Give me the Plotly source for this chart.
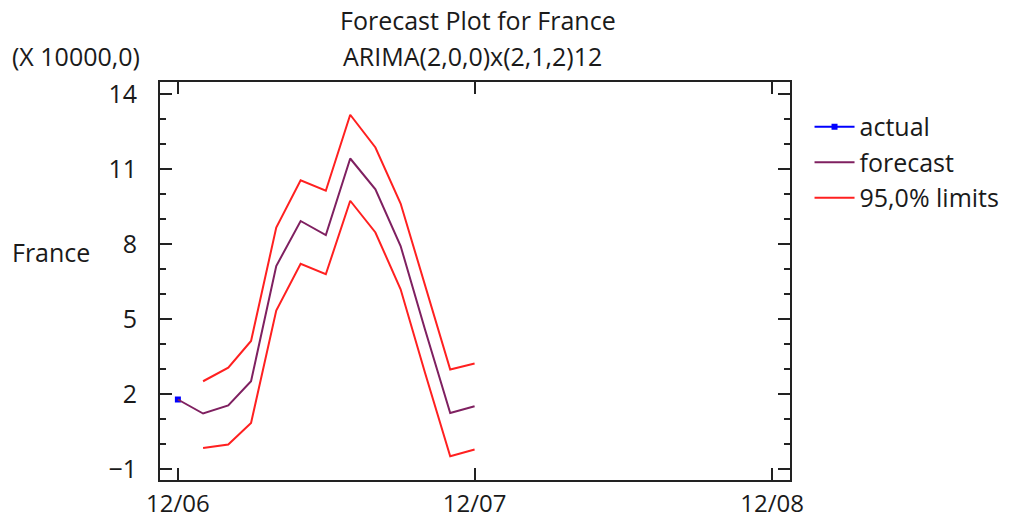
import plotly.graph_objects as go

# ---- data ----
actual_dates = ["2006-12-01"]
actual_vals = [1.78]

fc_dates = ["2006-12-01", "2007-01-01", "2007-02-01", "2007-03-01", "2007-04-01",
            "2007-05-01", "2007-06-01", "2007-07-01", "2007-08-01", "2007-09-01",
            "2007-10-01", "2007-11-01", "2007-12-01"]
forecast_vals = [1.78, 1.22, 1.54, 2.51, 7.12, 8.92, 8.36, 11.42, 10.19, 7.92, 4.58, 1.24, 1.51]

lim_dates = fc_dates[1:]
upper_vals = [2.51, 3.05, 4.12, 8.66, 10.55, 10.13, 13.17, 11.86, 9.62, 6.31, 2.98, 3.22]
lower_vals = [-0.16, -0.02, 0.84, 5.34, 7.21, 6.79, 9.73, 8.46, 6.19, 2.85, -0.49, -0.22]

x_tickvals = ["2006-12-01", "2007-12-01", "2008-12-01"]
x_ticktext = ["12/06", "12/07", "12/08"]

FONT = "Open Sans"
FS = 25
TXT = "#1a1a1a"

fig = go.Figure()
fig.add_trace(go.Scatter(x=actual_dates, y=actual_vals, name="actual",
                         mode="lines+markers",
                         line=dict(color="#0000ff", width=2),
                         marker=dict(color="#0000ff", size=6, symbol="square")))
fig.add_trace(go.Scatter(x=fc_dates, y=forecast_vals, name="forecast", mode="lines",
                         line=dict(color="#7f2060", width=2)))
fig.add_trace(go.Scatter(x=lim_dates, y=upper_vals, name="95,0% limits", mode="lines",
                         line=dict(color="#ff2020", width=2), legendgroup="lim"))
fig.add_trace(go.Scatter(x=lim_dates, y=lower_vals, name="95,0% limits", mode="lines",
                         line=dict(color="#ff2020", width=2), legendgroup="lim",
                         showlegend=False))

fig.update_layout(
    width=1012, height=521,
    margin=dict(l=160, r=222, t=82, b=41, autoexpand=False),
    paper_bgcolor="white", plot_bgcolor="white",
    font=dict(family=FONT, size=FS, color=TXT),
    showlegend=True,
    legend=dict(x=1.031, y=0.945, xanchor="left", yanchor="top", itemwidth=40,
                font=dict(family=FONT, size=FS, color=TXT),
                bgcolor="rgba(0,0,0,0)", tracegroupgap=0),
    xaxis=dict(type="date", range=["2006-11-09", "2008-12-23"],
               tickmode="array", tickvals=x_tickvals, ticktext=x_ticktext,
               ticks="inside", ticklen=12, tickwidth=2, tickcolor="#222",
               ticklabelstandoff=1, automargin=False,
               showline=True, linewidth=2, linecolor="#222", mirror="ticks",
               showgrid=False, zeroline=False,
               tickfont=dict(family=FONT, size=24, color=TXT)),
    yaxis=dict(range=[-1.44, 14.48], tickmode="linear", tick0=-1, dtick=3,
               ticks="inside", ticklen=12, tickwidth=2, tickcolor="#222",
               ticklabelstandoff=16, automargin=False,
               minor=dict(ticks="inside", ticklen=6, tickwidth=2, tickcolor="#222",
                          dtick=1, tick0=-1, showgrid=False),
               showline=True, linewidth=2, linecolor="#222", mirror="ticks",
               showgrid=False, zeroline=False,
               tickfont=dict(family=FONT, size=FS, color=TXT)),
)

def py(pix):
    return (521 - 41 - pix) / 398

def px(pix):
    return (pix - 160) / 630

fig.add_annotation(text="Forecast Plot for France", xref="paper", yref="paper",
                   x=px(478), y=py(20), xanchor="center", yanchor="middle",
                   showarrow=False, font=dict(family=FONT, size=FS, color=TXT))
fig.add_annotation(text="ARIMA(2,0,0)x(2,1,2)12", xref="paper", yref="paper",
                   x=px(472), y=py(56), xanchor="center", yanchor="middle",
                   showarrow=False, font=dict(family=FONT, size=FS, color=TXT))
fig.add_annotation(text="(X 10000,0)", xref="paper", yref="paper",
                   x=px(10), y=py(56), xanchor="left", yanchor="middle",
                   showarrow=False, font=dict(family=FONT, size=FS, color=TXT))
fig.add_annotation(text="France", xref="paper", yref="paper",
                   x=px(10), y=py(252), xanchor="left", yanchor="middle",
                   showarrow=False, font=dict(family=FONT, size=FS, color=TXT))

fig.write_html("out.html", config={"displayModeBar": False},
               post_script="document.body.style.margin='0px';")
